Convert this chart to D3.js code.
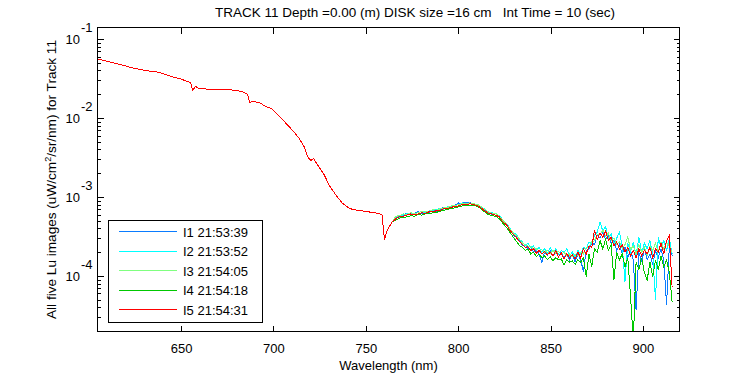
<!DOCTYPE html>
<html>
<head>
<meta charset="utf-8">
<script src="https://cdn.jsdelivr.net/npm/d3@7"></script>
<style>
  body { margin: 0; background: #fff; }
  svg { display: block; font-family: "Liberation Sans", Arial, sans-serif; }
</style>
</head>
<body>
<svg width="750" height="375"></svg>
<script>
const chartTitle = "TRACK 11 Depth =0.00 (m) DISK size =16 cm   Int Time = 10 (sec)"
const xLabel = "Wavelength (nm)"
const seriesNames = ["I1 21:53:39", "I2 21:53:52", "I3 21:54:05", "I4 21:54:18", "I5 21:54:31"]
const colors = ["#0a7cff", "#00ffff", "#80ff80", "#00c800", "#ff0000"]
const xTicks = [650, 700, 750, 800, 850, 900]
const yTicks = [1e-4, 1e-3, 1e-2, 1e-1]
const yTickExp = ["-4", "-3", "-2", "-1"]

// smooth part of the spectrum, all five scans lie on top of each other here
const baseNm = [605, 610, 614, 618, 622, 627, 632, 636, 639.5, 643, 646.7, 650, 652, 654, 655, 656,
  657.6, 659.4, 663, 668, 672, 677.5, 681, 683, 685.6, 687, 688.3, 690, 692, 695.6, 698.3, 700.5,
  702.8, 705.5, 708.2, 711, 713.6, 716.3, 718.2, 720, 721.4, 723.6, 725.5, 727.2, 729.9, 733.5,
  737.1, 740.7, 743, 746, 751.6, 757, 758.5, 759.8, 761, 762.4, 764.2]
const baseLu = [0.0558, 0.0520, 0.0492, 0.0468, 0.0440, 0.0413, 0.0394, 0.0385, 0.0368, 0.0345,
  0.0324, 0.0310, 0.0297, 0.0288, 0.0275, 0.0226, 0.0251, 0.0237, 0.0233, 0.0232, 0.0231, 0.0226,
  0.0220, 0.0214, 0.0201, 0.0156, 0.0164, 0.0160, 0.0158, 0.0139, 0.0133, 0.0120, 0.0105, 0.0091,
  0.00776, 0.0066, 0.00553, 0.00434, 0.00324, 0.00288, 0.00309, 0.00254, 0.0022, 0.00191, 0.00141,
  0.00106, 0.000832, 0.000724, 0.00069, 0.000676, 0.000646, 0.000617, 0.000589, 0.00029, 0.00036,
  0.000421, 0.00049]

// noisy part, one list per scan (units of 1e-4)
const tailUnit = 1e-4
const tailNm = [766, 768, 770, 772, 774, 776, 778, 780, 782, 784, 786, 788, 790, 792, 794, 796, 798,
  800, 802, 804, 806, 808, 810, 812, 814, 816, 818, 820, 822, 824, 826, 828, 830,
  831.5, 833, 834.5, 836, 837.5, 839, 840.5, 842, 843.5, 845, 846.5, 848, 849.5, 851, 852.5, 854,
  855.5, 857, 858.5, 860, 861.5, 863, 864.5, 866, 867.5, 869, 870.5, 872, 873.5, 875, 876.5, 878,
  879.5, 881, 882.5, 884, 885.5, 887, 888.5, 890, 891.5, 893, 894.5, 896, 897.5, 899, 900.5, 902,
  903.5, 905, 906.5, 908, 909.5, 911, 912.5, 914, 915.5]
const i1Tail = [5.5, 5.7, 5.9, 6.3, 5.9, 6.2, 6.5, 6.1, 6.6, 6.4, 6.8, 6.6, 7.0, 7.4, 7.2, 7.7, 7.9,
  8.4, 8.3, 8.6, 8.5, 8.2, 7.8, 7.6, 6.9, 6.5, 6.0, 6.2, 5.5, 5.0, 4.3, 3.9, 3.2,
  3.1, 2.8, 2.4, 2.5, 2.2, 2.3, 2.0, 2.1, 1.9, 1.48, 2.0, 1.85, 2.1, 1.8, 2.0, 1.75, 2.0, 1.7, 1.9,
  1.6, 1.85, 1.5, 1.9, 1.6, 1.14, 2.1, 2.2, 2.6, 2.5, 3.3, 3.0, 3.6, 2.9, 3.3, 2.6, 2.8, 2.1, 2.5,
  1.9, 2.3, 1.7, 2.1, 1.6, 0.37, 2.0, 1.5, 2.2, 1.6, 1.9, 1.4, 2.1, 1.7, 2.2, 1.6, 0.43, 2.4, 1.8]
const i2Tail = [5.6, 5.5, 6.0, 6.1, 6.2, 6.0, 6.4, 6.5, 6.3, 6.7, 6.8, 6.9, 7.2, 7.0, 7.5, 7.6, 7.8,
  8.0, 8.4, 8.2, 8.4, 8.3, 8.0, 7.5, 7.1, 6.4, 6.3, 6.1, 5.8, 5.1, 4.6, 3.9, 3.5,
  3.3, 2.9, 2.7, 2.4, 2.6, 2.3, 2.4, 2.1, 2.3, 2.0, 2.2, 1.9, 2.3, 2.0, 2.2, 1.9, 2.1, 2.0, 2.2, 1.8,
  2.0, 1.7, 2.1, 1.9, 2.3, 2.2, 2.7, 2.6, 3.3, 3.6, 4.8, 3.7, 4.2, 3.0, 3.4, 2.5, 3.0, 3.6, 2.4, 0.85,
  2.6, 2.0, 2.7, 1.8, 3.1, 2.0, 2.6, 2.2, 2.8, 1.9, 0.5, 3.1, 2.3, 2.8, 2.1, 3.0, 1.9]
const i3Tail = [5.7, 5.8, 6.1, 6.0, 6.3, 6.2, 6.3, 6.6, 6.5, 6.6, 6.9, 6.8, 7.1, 7.3, 7.4, 7.7, 7.8,
  8.0, 8.2, 8.3, 8.4, 8.2, 8.1, 7.6, 7.0, 6.5, 6.2, 6.2, 5.7, 5.0, 4.5, 3.9, 3.4,
  3.2, 2.9, 2.6, 2.5, 2.4, 2.35, 2.2, 2.2, 2.1, 2.15, 2.0, 2.1, 1.9, 2.1, 1.95, 2.05, 1.85, 2.0, 1.8,
  1.9, 1.75, 1.9, 1.8, 2.0, 1.9, 2.3, 2.3, 2.7, 2.8, 3.4, 3.3, 3.8, 3.2, 3.5, 2.8, 3.0, 2.5, 2.7, 2.2,
  2.5, 3.1, 2.2, 2.4, 1.9, 2.5, 2.0, 2.3, 1.8, 2.4, 2.1, 2.6, 2.0, 2.7, 2.2, 2.6, 2.4, 2.0]
const i4Tail = [5.1, 5.4, 5.5, 5.6, 5.8, 5.7, 6.0, 5.9, 6.1, 6.2, 6.3, 6.4, 6.6, 6.8, 7.0, 7.1, 7.3,
  7.5, 7.7, 7.8, 7.9, 7.9, 7.6, 7.1, 6.5, 6.0, 5.8, 5.7, 5.3, 4.6, 4.1, 3.5, 3.0,
  2.7, 2.4, 2.3, 2.1, 2.2, 1.9, 2.0, 1.75, 1.9, 1.7, 1.8, 1.6, 1.75, 1.55, 1.7, 1.6, 1.65, 1.38, 1.6,
  1.5, 1.55, 1.4, 1.6, 1.5, 1.7, 0.98, 1.9, 1.32, 2.2, 2.0, 2.8, 2.2, 2.9, 2.1, 2.5, 0.89, 2.0, 1.6,
  1.9, 1.3, 1.7, 0.55, 0.15, 1.5, 1.2, 1.7, 1.1, 0.89, 1.5, 0.98, 1.6, 1.2, 1.8, 1.3, 1.6, 1.1, 0.47]
const i5Tail = [5.3, 5.6, 5.7, 5.9, 6.1, 6.0, 6.1, 6.3, 6.2, 6.5, 6.5, 6.7, 6.8, 7.1, 7.2, 7.4, 7.6,
  7.7, 8.0, 8.0, 8.2, 8.0, 7.8, 7.3, 6.7, 6.2, 6.1, 5.9, 5.6, 4.8, 4.4, 3.7, 3.3,
  3.0, 2.7, 2.5, 2.3, 2.35, 2.1, 2.2, 1.95, 2.1, 1.9, 2.05, 1.85, 2.0, 1.8, 2.1, 1.75, 1.95, 1.65, 1.9,
  1.7, 1.85, 1.65, 2.0, 1.7, 2.2, 1.9, 2.4, 2.3, 3.8, 2.9, 3.5, 3.1, 3.7, 2.8, 3.1, 2.4, 2.7, 2.2,
  2.5, 2.0, 2.3, 1.8, 2.1, 1.7, 2.2, 1.8, 2.1, 1.9, 2.3, 1.7, 2.2, 2.0, 2.6, 1.9, 2.8, 3.3, 0.72]
const tails = [i1Tail, i2Tail, i3Tail, i4Tail, i5Tail]

const plotLeft = 97.5, plotRight = 679.5, plotTop = 27.5, plotBottom = 331.5

const x = d3.scaleLinear().domain([604.5, 919.5]).range([plotLeft, plotRight])
const y = d3.scaleLog().domain([1.98e-5, 0.14]).range([plotBottom, plotTop])

const svg = d3.select("svg")

svg.append("defs")
  .append("clipPath")
  .attr("id", "plot")
  .append("rect")
  .attr("x", plotLeft)
  .attr("y", plotTop)
  .attr("width", plotRight - plotLeft)
  .attr("height", plotBottom - plotTop)

// build each scan: shared smooth part + its own noisy tail
const base = d3.zip(baseNm, baseLu).map(d => ({ nm: d[0], v: d[1] }))
const series = tails.map((t, i) => ({
  name: seriesNames[i],
  color: colors[i],
  points: base.concat(d3.zip(tailNm, t).map(d => ({ nm: d[0], v: d[1] * tailUnit })))
}))

const line = d3.line()
  .x(d => x(d.nm))
  .y(d => y(d.v))

svg.append("g")
  .attr("clip-path", "url(#plot)")
  .selectAll("path")
  .data(series)
  .enter()
  .append("path")
  .attr("d", d => line(d.points))
  .attr("fill", "none")
  .attr("stroke", d => d.color)
  .attr("stroke-width", 1)
  .attr("shape-rendering", "crispEdges")

// axes box and inward ticks
const axes = svg.append("g")
  .attr("stroke", "#000")
  .attr("stroke-width", 1)
  .attr("shape-rendering", "crispEdges")

axes.append("rect")
  .attr("x", plotLeft)
  .attr("y", plotTop)
  .attr("width", plotRight - plotLeft)
  .attr("height", plotBottom - plotTop)
  .attr("fill", "none")

xTicks.forEach(t => {
  axes.append("line").attr("x1", x(t)).attr("x2", x(t)).attr("y1", plotBottom).attr("y2", plotBottom - 6)
  axes.append("line").attr("x1", x(t)).attr("x2", x(t)).attr("y1", plotTop).attr("y2", plotTop + 6)
})

const yDomain = y.domain()
y.ticks()
  .filter(t => t >= yDomain[0] && t <= yDomain[1])
  .forEach(t => {
    const major = yTicks.some(m => Math.abs(m - t) / m < 1e-6)
    const len = major ? 6 : 3
    const py = Math.round(y(t)) + 0.5
    axes.append("line").attr("x1", plotLeft).attr("x2", plotLeft + len).attr("y1", py).attr("y2", py)
    axes.append("line").attr("x1", plotRight).attr("x2", plotRight - len).attr("y1", py).attr("y2", py)
  })

const text = svg.append("g")
  .attr("font-size", 13)
  .attr("fill", "#000")

xTicks.forEach(t => {
  text.append("text")
    .attr("x", x(t))
    .attr("y", plotBottom + 21)
    .attr("text-anchor", "middle")
    .text(t)
})

yTicks.forEach((t, i) => {
  const py = y(t)
  text.append("text")
    .attr("x", 80)
    .attr("y", py + 5)
    .attr("text-anchor", "end")
    .text("10")
  text.append("text")
    .attr("x", 81)
    .attr("y", py - 7)
    .text(yTickExp[i])
})

text.append("text")
  .attr("x", 415)
  .attr("y", 17)
  .attr("text-anchor", "middle")
  .attr("font-size", 13.5)
  .style("white-space", "pre")
  .text(chartTitle)

text.append("text")
  .attr("x", (plotLeft + plotRight) / 2)
  .attr("y", 370)
  .attr("text-anchor", "middle")
  .text(xLabel)

const yl = text.append("text")
  .attr("transform", `translate(56, ${(plotTop + plotBottom) / 2}) rotate(-90)`)
  .attr("text-anchor", "middle")
  .attr("font-size", 13.6)
yl.append("tspan").text("All five Lu images (uW/cm")
yl.append("tspan").attr("dy", -5).attr("font-size", 9).text("2")
yl.append("tspan").attr("dy", 5).text("/sr/nm) for Track 11")

// legend
const legend = svg.append("g")
legend.append("rect")
  .attr("x", 108.5)
  .attr("y", 220.5)
  .attr("width", 154)
  .attr("height", 102)
  .attr("fill", "#fff")
  .attr("stroke", "#000")
  .attr("shape-rendering", "crispEdges")

const rows = legend.selectAll("g.row")
  .data(series)
  .enter()
  .append("g")
  .attr("class", "row")
  .attr("transform", (d, i) => `translate(0, ${231.5 + i * 19.5})`)

rows.append("line")
  .attr("x1", 119)
  .attr("x2", 177)
  .attr("stroke", d => d.color)
  .attr("shape-rendering", "crispEdges")

rows.append("text")
  .attr("x", 183)
  .attr("y", 5)
  .attr("font-size", 13)
  .text(d => d.name)
</script>
</body>
</html>
